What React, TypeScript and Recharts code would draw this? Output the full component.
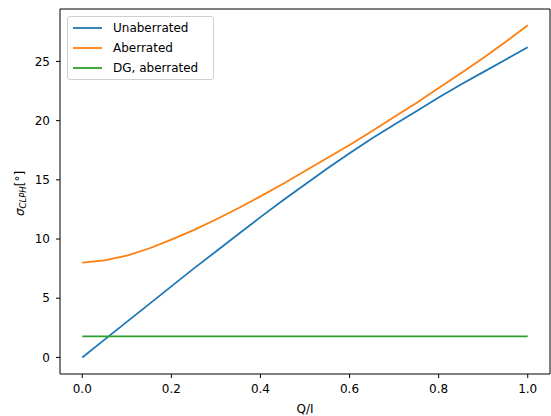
import React from "react";
import { LineChart, Line, XAxis, YAxis, ReferenceArea } from "recharts";

// Q/I samples and the three sigma_CLPH curves (degrees)
const qi = [0, 0.05, 0.1, 0.15, 0.2, 0.25, 0.3, 0.35, 0.4, 0.45, 0.5, 0.55, 0.6, 0.65, 0.7, 0.75, 0.8, 0.85, 0.9, 0.95, 1.0];
const unaberrated = [0, 1.5, 3.0, 4.5, 6.0, 7.5, 8.95, 10.4, 11.85, 13.25, 14.6, 15.95, 17.25, 18.5, 19.65, 20.8, 21.95, 23.05, 24.1, 25.15, 26.2];
const aberrated = [8.0, 8.2, 8.6, 9.2, 9.95, 10.75, 11.65, 12.6, 13.6, 14.65, 15.75, 16.85, 17.95, 19.1, 20.3, 21.5, 22.75, 24.0, 25.3, 26.65, 28.05];
const dgAberrated = [1.77, 1.77, 1.77, 1.77, 1.77, 1.77, 1.77, 1.77, 1.77, 1.77, 1.77, 1.77, 1.77, 1.77, 1.77, 1.77, 1.77, 1.77, 1.77, 1.77, 1.77];

const xTicks = [0, 0.2, 0.4, 0.6, 0.8, 1.0];
const yTicks = [0, 5, 10, 15, 20, 25];
const X_DOMAIN: [number, number] = [-0.05, 1.05];
const Y_DOMAIN: [number, number] = [-1.4, 29.43];

const SERIES = [
  { key: "unaberrated", name: "Unaberrated", color: "#1f77b4" },
  { key: "aberrated", name: "Aberrated", color: "#ff7f0e" },
  { key: "dg", name: "DG, aberrated", color: "#2ca02c" },
];

const data = qi.map((q, i) => ({
  q,
  unaberrated: unaberrated[i],
  aberrated: aberrated[i],
  dg: dgAberrated[i],
}));

const FONT = "DejaVu Sans, sans-serif";
const tickStyle = { fontSize: 12, fill: "#000", fontFamily: FONT };

// matplotlib-style legend, overlaid so it doesn't eat into the plot area
function LegendBox() {
  return (
    <div
      style={{
        position: "absolute",
        left: 67,
        top: 16,
        border: "1px solid #d0d0d0",
        borderRadius: 3,
        background: "rgba(255,255,255,0.8)",
        padding: "1px 15px 1px 5px",
        fontFamily: FONT,
        fontSize: 12,
        color: "#000",
      }}
    >
      {SERIES.map((s) => (
        <div key={s.key} style={{ display: "flex", alignItems: "center", height: 20 }}>
          <svg width={29} height={4} style={{ marginRight: 11 }}>
            <line x1={0} y1={2} x2={29} y2={2} stroke={s.color} strokeWidth={1.8} />
          </svg>
          <span>{s.name}</span>
        </div>
      ))}
    </div>
  );
}

function YLabel(props: any) {
  const { viewBox } = props;
  const cx = viewBox.x + 20;
  const cy = viewBox.y + viewBox.height / 2 + 2;
  return (
    <text
      x={cx}
      y={cy}
      transform={`rotate(-90 ${cx} ${cy})`}
      textAnchor="middle"
      dominantBaseline="central"
      fontFamily={FONT}
      fontSize={12}
      fill="#000"
    >
      <tspan fontStyle="italic">σ</tspan>
      <tspan fontStyle="italic" fontSize={8.5} dy={3}>CLPH</tspan>
      <tspan dy={-3}>[°]</tspan>
    </text>
  );
}

function XLabel(props: any) {
  const { viewBox } = props;
  return (
    <text
      x={viewBox.x + viewBox.width / 2}
      y={413}
      textAnchor="middle"
      fontFamily={FONT}
      fontSize={12}
      fill="#000"
    >
      Q/I
    </text>
  );
}

export default function App() {
  return (
    <div style={{ position: "fixed", left: 0, top: 0, width: 551, height: 416, background: "#fff" }}>
      <LineChart width={551} height={416} data={data} margin={{ top: 9, right: 1, bottom: 0, left: 0 }}>
        <XAxis
          dataKey="q"
          type="number"
          domain={X_DOMAIN}
          allowDataOverflow
          ticks={xTicks}
          tickFormatter={(v: number) => v.toFixed(1)}
          tick={tickStyle}
          tickSize={4}
          tickMargin={6}
          height={42}
          stroke="#000"
          axisLine={false}
          label={<XLabel />}
        />
        <YAxis
          type="number"
          domain={Y_DOMAIN}
          allowDataOverflow
          ticks={yTicks}
          tick={tickStyle}
          tickSize={4}
          tickMargin={6}
          width={60}
          stroke="#000"
          axisLine={false}
          label={<YLabel />}
        />
        <ReferenceArea
          x1={X_DOMAIN[0]}
          x2={X_DOMAIN[1]}
          y1={Y_DOMAIN[0]}
          y2={Y_DOMAIN[1]}
          fill="none"
          stroke="#000"
          strokeWidth={1}
          fillOpacity={0}
        />
        {SERIES.map((s) => (
          <Line
            key={s.key}
            type="linear"
            dataKey={s.key}
            name={s.name}
            stroke={s.color}
            strokeWidth={1.8}
            dot={false}
            activeDot={false}
            isAnimationActive={false}
          />
        ))}
      </LineChart>
      <LegendBox />
    </div>
  );
}
